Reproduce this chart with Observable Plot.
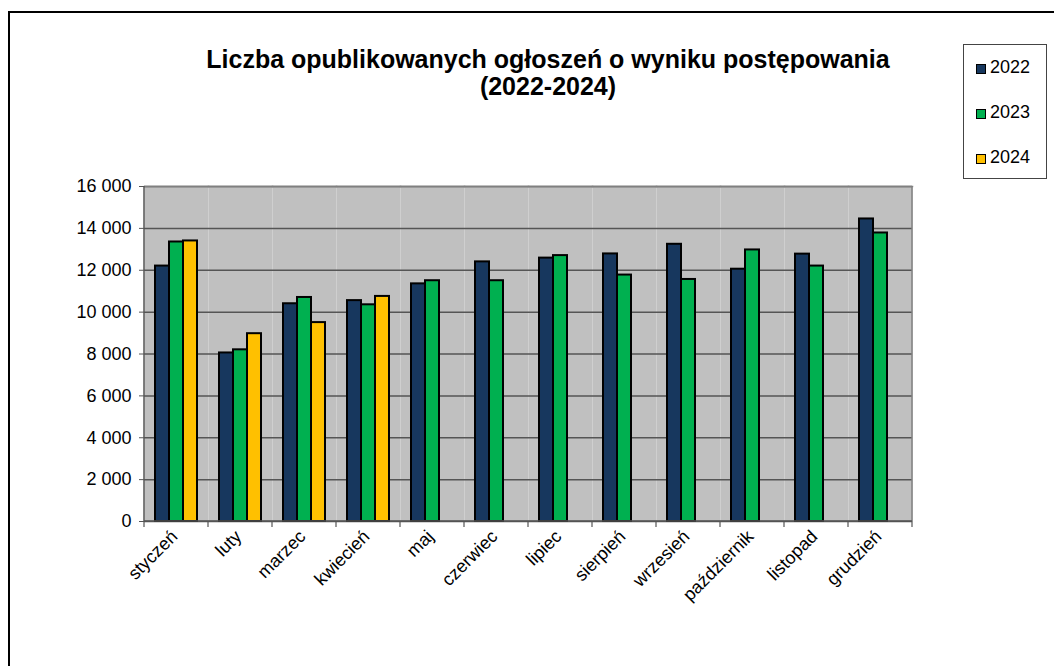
<!DOCTYPE html>
<html>
<head>
<meta charset="utf-8">
<script src="https://cdn.jsdelivr.net/npm/d3@7"></script>
<script src="https://cdn.jsdelivr.net/npm/@observablehq/plot@0.6"></script>
<style>
  body { margin: 0; background: #fff; font-family: "Liberation Sans", Arial, sans-serif; }
  #wrap { position: relative; width: 1054px; height: 666px; overflow: hidden; background: #fff; }
  #border { position: absolute; left: 8px; top: 11px; width: 1200px; height: 800px; border-left: 2px solid #000; border-top: 2px solid #000; }
  #chart { position: absolute; left: 0; top: 0; }
  #title { position: absolute; left: 0; width: 1096px; top: 46px; text-align: center; font-weight: bold; font-size: 25px; line-height: 27px; color: #000; }
  #legend { position: absolute; left: 963px; top: 44px; width: 82px; height: 133px; border: 1px solid #444; background: #fff; }
  #legend .item { height: 45px; line-height: 45px; font-size: 18px; padding-left: 12px; white-space: nowrap; }
  #legend .sw { display: inline-block; width: 8px; height: 8px; border: 1.5px solid #000; margin-right: 4px; vertical-align: -1px; }
</style>
</head>
<body>
<div id="wrap">
  <div id="border"></div>
  <div id="chart"></div>
  <div id="title">Liczba opublikowanych ogłoszeń o wyniku postępowania<br>(2022-2024)</div>
  <div id="legend"></div>
</div>
<script>
const months = ["styczeń", "luty", "marzec", "kwiecień", "maj", "czerwiec", "lipiec", "sierpień", "wrzesień", "październik", "listopad", "grudzień"];
const years = ["2022", "2023", "2024"];
const colors = ["#17375E", "#00B050", "#FFC000"];
const values2022 = [12200, 8050, 10400, 10550, 11350, 12400, 12580, 12780, 13240, 12050, 12770, 14450];
const values2023 = [13350, 8200, 10700, 10350, 11500, 11500, 12700, 11770, 11560, 12970, 12200, 13780];
const values2024 = [13400, 8970, 9500, 10750, null, null, null, null, null, null, null, null];
const yTicks = [0, 2000, 4000, 6000, 8000, 10000, 12000, 14000, 16000];

const series = [values2022, values2023, values2024];
const data = [];
years.forEach((yr, k) => months.forEach((m, i) => {
  const v = series[k][i];
  if (v != null) data.push({month: m, year: yr, value: v});
}));

const fmt = d => d3.format(",")(d).replace(/,/g, " ");

// Axis lines and category-boundary ticks, positioned with the plot's own fx and y scales
function axisLines(index, scales, values, dimensions) {
  const {fx, y} = scales;
  const {marginLeft, marginRight, width} = dimensions;
  let edges;
  if (fx) {
    edges = months.map(m => fx(m));
    edges.push(fx(months[months.length - 1]) + fx.bandwidth());
  } else {
    const step = (width - marginLeft - marginRight) / months.length;
    edges = months.map((m, i) => marginLeft + i * step);
    edges.push(width - marginRight);
  }
  const y0 = y(0), yTop = y(d3.max(yTicks));
  const left = edges[0], right = edges[edges.length - 1];
  const g = d3.create("svg:g");
  g.append("line").attr("x1", right).attr("x2", right).attr("y1", yTop).attr("y2", y0)
    .attr("stroke", "#808080").attr("stroke-width", 1.5);
  g.append("line").attr("x1", left).attr("x2", left).attr("y1", yTop).attr("y2", y0)
    .attr("stroke", "#555").attr("stroke-width", 1.5);
  g.append("line").attr("x1", left).attr("x2", right).attr("y1", y0).attr("y2", y0)
    .attr("stroke", "#555").attr("stroke-width", 1.5);
  g.selectAll("line.tick").data(edges).join("line").attr("class", "tick")
    .attr("x1", d => d).attr("x2", d => d).attr("y1", y0).attr("y2", y0 + 6)
    .attr("stroke", "#555").attr("stroke-width", 1.2);
  return g.node();
}

const chart = Plot.plot({
  width: 1054,
  height: 666,
  marginLeft: 144,
  marginRight: 142,
  marginTop: 186,
  marginBottom: 145,
  style: {fontFamily: "'Liberation Sans', Arial, sans-serif", fontSize: "18px", color: "#000", background: "transparent"},
  fx: {domain: months, padding: 0, label: null},
  x: {domain: years, paddingInner: 0, paddingOuter: 0.75, axis: null},
  y: {domain: [0, 16000], label: null},
  color: {domain: years, range: colors},
  marks: [
    Plot.frame({fill: "#c0c0c0"}),
    Plot.gridY(yTicks, {stroke: "#555", strokeOpacity: 1, strokeWidth: 1.5}),
    Plot.frame({anchor: "top", stroke: "#808080", strokeWidth: 1.5}),
    Plot.barY(data, {fx: "month", x: "year", y: "value", fill: "year", stroke: "#000", strokeWidth: 2}),
    Plot.frame({facet: "super", render: axisLines}),
    Plot.axisY({ticks: yTicks, tickFormat: fmt, tickSize: 5, tickPadding: 8, stroke: "#555", fill: "#000", fontSize: 18, label: null}),
    Plot.axisFx({anchor: "bottom", tickSize: 0, tickRotate: -45, tickPadding: 12, fontSize: 18, fill: "#000", label: null, dx: -2})
  ]
});
document.getElementById("chart").appendChild(chart);

const legend = document.getElementById("legend");
years.forEach((yr, k) => {
  const item = document.createElement("div");
  item.className = "item";
  const sw = document.createElement("span");
  sw.className = "sw";
  sw.style.background = colors[k];
  item.appendChild(sw);
  item.appendChild(document.createTextNode(yr));
  legend.appendChild(item);
});
</script>
</body>
</html>
